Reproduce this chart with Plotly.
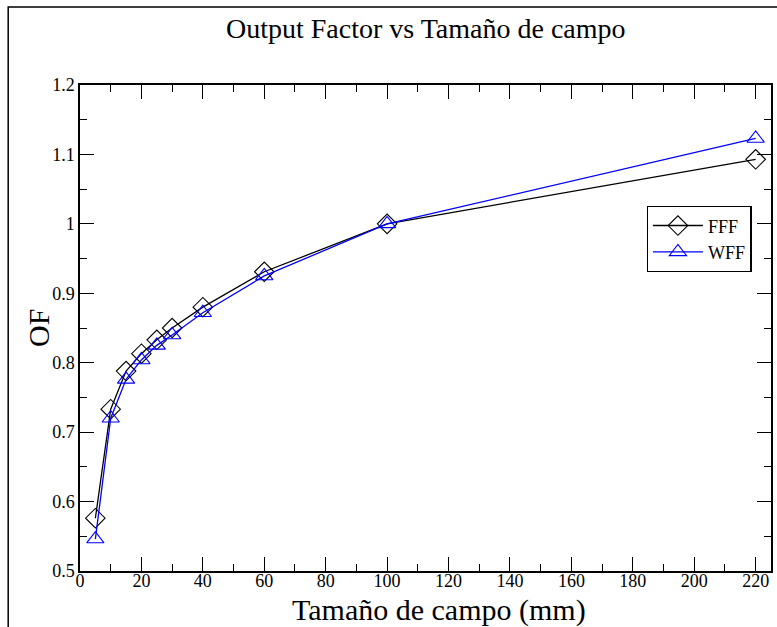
import plotly.graph_objects as go

# Field sizes (mm) and measured output factors
field_size = [5, 10, 15, 20, 25, 30, 40, 60, 100, 220]
of_fff = [0.576, 0.733, 0.788, 0.813, 0.833, 0.850, 0.880, 0.931, 1.000, 1.093]
of_wff = [0.546, 0.720, 0.776, 0.804, 0.825, 0.840, 0.872, 0.925, 1.000, 1.123]

x_ticks = list(range(0, 221, 20))
y_ticks = [0.5, 0.6, 0.7, 0.8, 0.9, 1.0, 1.1, 1.2]
y_tick_text = ["0.5", "0.6", "0.7", "0.8", "0.9", "1", "1.1", "1.2"]

SERIF = "Liberation Serif"

fig = go.Figure()
fig.add_trace(go.Scatter(
    x=field_size, y=of_fff, name="FFF", mode="lines+markers",
    line=dict(color="black", width=1.3),
    marker=dict(symbol="diamond-open", size=15, color="black", line=dict(width=1.1)),
))
fig.add_trace(go.Scatter(
    x=field_size, y=of_wff, name="WFF", mode="lines+markers",
    line=dict(color="#0000ff", width=1.3),
    marker=dict(symbol="triangle-up-open", size=15, color="#0000ff", line=dict(width=1.1)),
))

axis_common = dict(
    showline=True, linecolor="black", linewidth=1.5, mirror="ticks",
    ticks="inside", ticklen=14, tickwidth=1.3, tickcolor="black",
    showgrid=False, zeroline=False,
    tickfont_family=SERIF, tickfont_size=18, tickfont_color="black",
)

fig.update_xaxes(
    range=[0, 225], tickmode="array", tickvals=x_ticks,
    ticktext=[str(v) for v in x_ticks], ticklabelstandoff=-7,
    minor=dict(dtick=10, ticks="inside", ticklen=7, tickwidth=1.3, tickcolor="black"),
    **axis_common,
)
fig.update_yaxes(
    range=[0.5, 1.2], tickmode="array", tickvals=y_ticks, ticktext=y_tick_text,
    minor=dict(dtick=0.05, ticks="inside", ticklen=7, tickwidth=1.3, tickcolor="black"),
    **axis_common,
)

fig.update_layout(
    width=777, height=627,
    margin=dict(l=80, r=4, t=85, b=56),
    paper_bgcolor="white", plot_bgcolor="white",
    font=dict(family=SERIF, color="black", size=18),
    showlegend=True,
    legend=dict(
        x=0.82, y=0.751, xanchor="left", yanchor="top",
        bgcolor="white", bordercolor="black", borderwidth=1.3,
        font=dict(family=SERIF, size=18, color="black"),
        tracegroupgap=0, itemwidth=50,
    ),
    annotations=[
        dict(text="Output Factor vs Tamaño de campo", xref="paper", yref="paper",
             x=0.5, y=1.0, yshift=57, xanchor="center", yanchor="middle",
             showarrow=False, font=dict(family=SERIF, size=28, color="black")),
        dict(text="Tamaño de campo (mm)", xref="paper", yref="paper",
             x=0.52, y=0.0, yshift=-39, xanchor="center", yanchor="middle",
             showarrow=False, font=dict(family=SERIF, size=30, color="black")),
        dict(text="OF", xref="paper", yref="paper",
             x=0.0, y=0.5, xshift=-42, xanchor="center", yanchor="middle",
             textangle=-90, showarrow=False,
             font=dict(family=SERIF, size=30, color="black")),
    ],
    shapes=[
        dict(type="rect", xref="paper", yref="paper",
             x0=-0.1039, x1=1.2, y0=-0.3, y1=1.1605,
             line=dict(color="black", width=1.5), fillcolor="rgba(0,0,0,0)"),
    ],
)

fig.write_html("out.html")
